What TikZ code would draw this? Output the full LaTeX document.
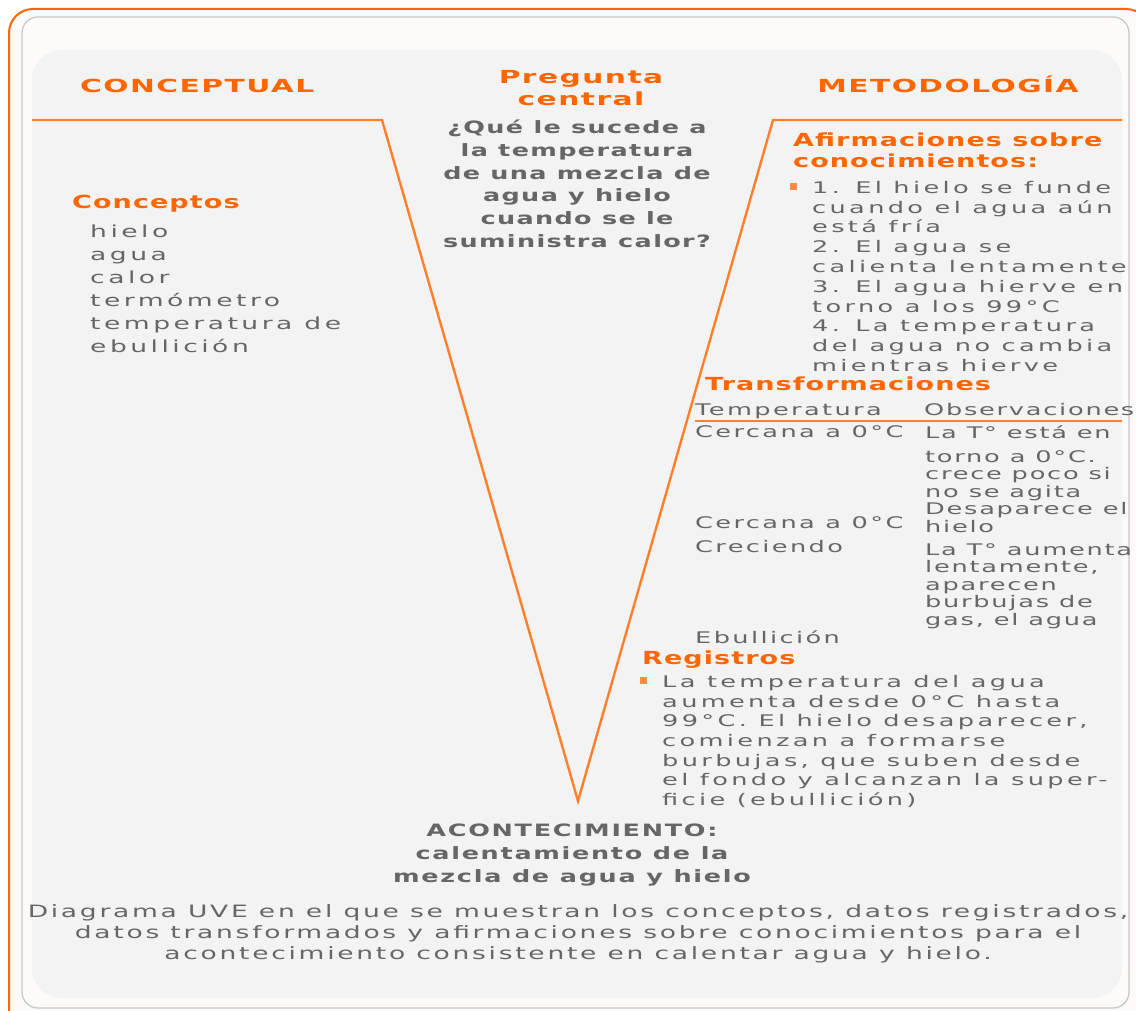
\documentclass[tikz,border=0pt]{standalone}
\usepackage{fontspec}
\setmainfont{DejaVu Sans}
\newfontfamily\bodyf[FakeStretch=1.6,LetterSpace=21]{DejaVu Sans}
\newfontfamily\tblf[FakeStretch=1.6,LetterSpace=15]{DejaVu Sans}
\newfontfamily\thinf[FakeStretch=1.6,LetterSpace=11]{DejaVu Sans}
\newfontfamily\headf[FakeStretch=1.5,LetterSpace=6]{DejaVu Sans}
\newfontfamily\capsf[FakeStretch=1.65,LetterSpace=8]{DejaVu Sans}
\newfontfamily\quesf[FakeStretch=1.5,LetterSpace=8]{DejaVu Sans}
\newfontfamily\evntf[FakeStretch=1.5,LetterSpace=10]{DejaVu Sans}
\newfontfamily\captf[FakeStretch=1.56,LetterSpace=16]{DejaVu Sans}
\definecolor{orng}{HTML}{FF6600}
\definecolor{lorng}{HTML}{FF7F2A}
\definecolor{bullc}{HTML}{F98B45}
\definecolor{txtgray}{HTML}{666666}
\definecolor{panelc}{HTML}{F3F3F3}
\definecolor{borderc}{HTML}{C8C8C8}
\definecolor{innerc}{HTML}{FCFBFA}
\tikzset{
  vline/.style={draw=lorng, line width=2.4pt, line join=miter},
  rule/.style={draw=lorng, line width=1.6pt},
  body/.style={inner sep=0pt, text=txtgray, align=left, font={\bodyf\fontsize{16}{19.8}\selectfont}},
  tbl/.style={inner sep=0pt, text=txtgray, align=left, font={\tblf\fontsize{16}{17.5}\selectfont}},
  tblr/.style={inner sep=0pt, text=txtgray, align=left, font={\thinf\fontsize{16}{17.5}\selectfont}},
  listt/.style={inner sep=0pt, text=txtgray, align=left, font={\bodyf\fontsize{16.6}{22.9}\selectfont}},
  headh/.style={inner sep=0pt, text=orng, align=left, font={\headf\bfseries\fontsize{18}{21}\selectfont}},
  capsh/.style={inner sep=0pt, text=orng, align=center, font={\capsf\bfseries\fontsize{18}{22.5}\selectfont}},
  quest/.style={inner sep=0pt, text=txtgray, align=center, font={\quesf\bfseries\fontsize{17}{22.7}\selectfont}},
  event/.style={inner sep=0pt, text=txtgray, align=center, font={\evntf\bfseries\fontsize{17}{23}\selectfont}},
  capt/.style={inner sep=0pt, text=txtgray, align=center, font={\captf\fontsize{17}{21}\selectfont}},
  bulletsq/.style={inner sep=0pt, minimum size=7pt, fill=bullc, draw=none, shape=rectangle}
}
\begin{document}
\begin{tikzpicture}[x=1pt,y=-1pt]
\useasboundingbox (0,0) rectangle (1136,1011);
\fill[white] (0,0) rectangle (1136,1011);
% outer frame
\draw[orng, line width=2pt, rounded corners=24pt, fill=innerc] (9,1040) -- (9,9) -- (1150,9) -- (1150,1040);
% inner frame
\draw[borderc, line width=1.3pt, rounded corners=16pt, fill=innerc] (22,17) rectangle (1129,1008);
% panel
\fill[panelc, rounded corners=30pt] (32,50) rectangle (1122,998);
% V
\coordinate (vl) at (32,120);
\coordinate (va) at (382,120);
\coordinate (vb) at (578,801);
\coordinate (vc) at (773,120);
\coordinate (vr) at (1122,120);
\draw[vline] (vl) -- (va) -- (vb) -- (vc) -- (vr);

% headings
\node[capsh, anchor=base west] (conceptual) at (80,93) {CONCEPTUAL};
\node[capsh, anchor=base] (metodo) at (948,93) {METODOLOGÍA};
\node[capsh, anchor=north] (preg) at (581,70) {Pregunta\\central};
\node[quest, anchor=north] (quest) at (577,120) {¿Qué le sucede a\\la temperatura\\de una mezcla de\\agua y hielo\\cuando se le\\suministra calor?};

% left
\node[headh, anchor=base west] (conc) at (72,209) {Conceptos};
\node[listt, anchor=north west] (list) at (90,225) {hielo\\agua\\calor\\termómetro\\temperatura de\\ebullición};

% right: afirmaciones
\node[headh, anchor=north west] (afirm) at (793,133) {Afirmaciones sobre\\conocimientos:};
\node[bulletsq] (b1) at (793.5,186.5) {};
\node[body, anchor=north west] (afbody) at (812,181) {1. El hielo se funde\\cuando el agua aún\\está fría\\2. El agua se\\calienta lentamente\\3. El agua hierve en\\torno a los 99°C\\4. La temperatura\\del agua no cambia\\mientras hierve};

% transformaciones
\node[headh, anchor=base west] (transf) at (705,390) {Transformaciones};
\node[tbl, anchor=base west] (thT) at (695,415) {Temperatura};
\node[tblr, anchor=base west] (thO) at (924,415) {Observaciones};
\coordinate (rl) at (695,421);
\coordinate (rr) at (1122,421);
\draw[rule] (rl) -- (rr);
\node[tbl, anchor=base west] (t1) at (695,437) {Cercana a 0°C};
\node[tblr, anchor=base west] (o1) at (925,438) {La T° está en};
\node[tblr, anchor=north west] (o2) at (925,450) {torno a 0°C.\\crece poco si\\no se agita\\Desaparece el\\hielo};
\node[tbl, anchor=base west] (t2) at (695,528) {Cercana a 0°C};
\node[tbl, anchor=base west] (t3) at (695,552) {Creciendo};
\node[tblr, anchor=north west] (o3) at (925,543) {La T° aumenta\\lentamente,\\aparecen\\burbujas de\\gas, el agua};
\node[tbl, anchor=base west] (t4) at (695,643) {Ebullición};

% registros
\node[headh, anchor=base west] (regis) at (642,664) {Registros};
\node[bulletsq] (b2) at (643.5,680.5) {};
\node[body, anchor=north west, font={\bodyf\fontsize{16}{19.7}\selectfont}] (regbody) at (662,675) {La temperatura del agua\\aumenta desde 0°C hasta\\99°C. El hielo desaparecer,\\comienzan a formarse\\burbujas, que suben desde\\el fondo y alcanzan la super-\\ficie (ebullición)};

% bottom
\node[event, anchor=north] (event) at (572,824) {ACONTECIMIENTO:\\calentamiento de la\\mezcla de agua y hielo};
\node[capt, anchor=north] (caption) at (578,904) {Diagrama UVE en el que se muestran los conceptos, datos registrados,\\datos transformados y afirmaciones sobre conocimientos para el\\acontecimiento consistente en calentar agua y hielo.};
\end{tikzpicture}
\end{document}
